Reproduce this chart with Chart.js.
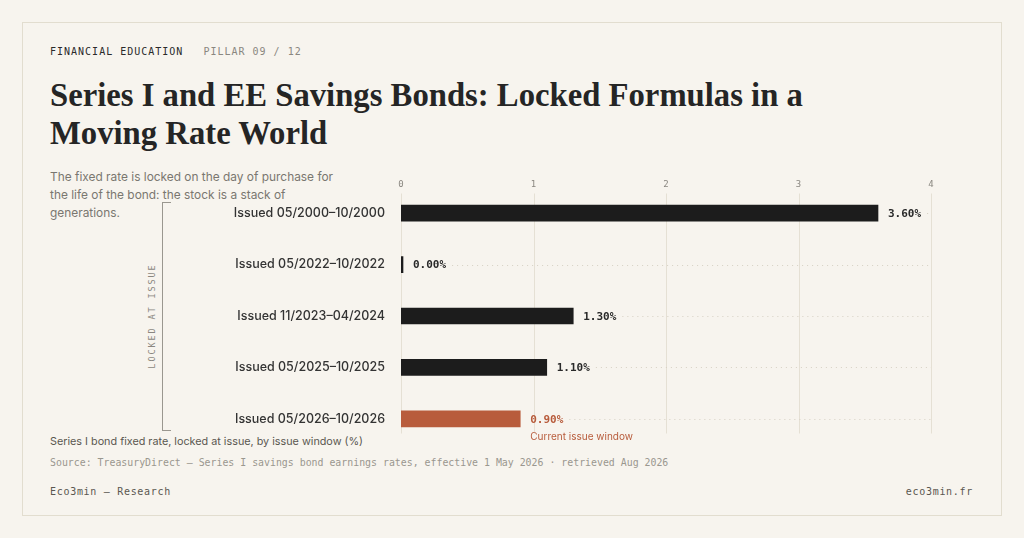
<!DOCTYPE html>
<html><head><meta charset="utf-8">
<script src="https://cdn.jsdelivr.net/npm/chart.js@4.4.1/dist/chart.umd.min.js"></script>
<style>
html,body{margin:0;padding:0;background:#f7f4ee;width:1024px;height:538px;overflow:hidden;position:relative;font-family:Inter,"Noto Sans",sans-serif;}
.card{position:absolute;left:22px;top:22px;width:978px;height:492px;border:1px solid #e2ddcf;}
.abs{position:absolute;white-space:nowrap;}
.mono{font-family:"DejaVu Sans Mono","Liberation Mono",monospace;}
#kicker{left:50px;top:46px;font-size:10px;letter-spacing:1px;color:#2a2a2a;}
#kicker span{color:#8a8780;margin-left:20px;}
#title{left:50px;top:76px;font-family:"Liberation Serif",serif;font-weight:700;font-size:32.7px;line-height:38px;color:#252525;white-space:normal;width:800px;}
#sub{left:50px;top:168px;width:300px;white-space:normal;font-size:11.9px;line-height:18px;color:#7a7770;}
#bracket{left:162px;top:202px;width:8px;height:227px;border:1.3px solid #9a978f;border-right:none;}
#locked{left:152px;top:316px;transform:translate(-50%,-50%) rotate(-90deg);font-size:8.5px;letter-spacing:1.9px;color:#8a8780;}
#caption{left:50px;top:435px;font-size:10.8px;color:#5a5750;}
#source{left:50px;top:457px;font-size:9.9px;color:#9a978f;}
#brand{left:50px;top:486px;font-size:10px;letter-spacing:0.7px;color:#5a5750;}
#site{right:51px;top:486px;font-size:10px;letter-spacing:0.7px;color:#5a5750;}
#chartwrap{position:absolute;left:170px;top:164px;width:800px;height:304px;}
</style></head>
<body>
<div class="card"></div>
<div class="abs mono" id="kicker">FINANCIAL EDUCATION<span>PILLAR 09 / 12</span></div>
<div class="abs" id="title">Series I and EE Savings Bonds: Locked Formulas in a Moving Rate World</div>
<div class="abs" id="sub">The fixed rate is locked on the day of purchase for the life of the bond: the stock is a stack of generations.</div>
<div class="abs" id="bracket"></div>
<div class="abs mono" id="locked">LOCKED AT ISSUE</div>
<div class="abs" id="caption">Series I bond fixed rate, locked at issue, by issue window (%)</div>
<div class="abs mono" id="source">Source: TreasuryDirect — Series I savings bond earnings rates, effective 1 May 2026 · retrieved Aug 2026</div>
<div class="abs mono" id="brand">Eco3min — Research</div>
<div class="abs mono" id="site">eco3min.fr</div>
<div id="chartwrap"><canvas id="c"></canvas></div>
<script>
const categories = ["Issued 05/2000–10/2000","Issued 05/2022–10/2022","Issued 11/2023–04/2024","Issued 05/2025–10/2025","Issued 05/2026–10/2026"];
const fixedRates = [3.60, 0.00, 1.30, 1.10, 0.90];
const xTicks = [0,1,2,3,4];
const currentIndex = 4;
const currentNote = "Current issue window";

const DARK = "#1c1c1c", ORANGE = "#b85c3c";

const overlay = {
  id:"overlay",
  beforeDatasetsDraw(chart){
    const {ctx, chartArea, scales:{x}} = chart;
    ctx.save();
    ctx.strokeStyle = "#e5e0d4"; ctx.lineWidth = 1;
    xTicks.forEach(v=>{
      const px = Math.round(x.getPixelForValue(v))+0.5;
      ctx.beginPath(); ctx.moveTo(px, chartArea.top+6); ctx.lineTo(px, chartArea.bottom-11); ctx.stroke();
    });
    ctx.restore();
  },
  afterDatasetsDraw(chart){
    const {ctx, chartArea} = chart;
    const meta = chart.getDatasetMeta(0);
    ctx.save();
    ctx.textBaseline = "middle";
    meta.data.forEach((bar,i)=>{
      const isCur = i===currentIndex;
      const txt = fixedRates[i].toFixed(2)+"%";
      ctx.font = "bold 11px 'DejaVu Sans Mono', monospace";
      ctx.fillStyle = isCur ? ORANGE : "#2a2a2a";
      const tx = Math.max(bar.x, bar.base) + 10;
      ctx.fillText(txt, tx, bar.y+1);
      const w = ctx.measureText(txt).width;
      ctx.strokeStyle = "#d6d0c3"; ctx.lineWidth = 1; ctx.setLineDash([1,4]);
      ctx.beginPath(); ctx.moveTo(tx+w+6, Math.round(bar.y)+0.5); ctx.lineTo(chartArea.right, Math.round(bar.y)+0.5); ctx.stroke();
      ctx.setLineDash([]);
      if(isCur){
        ctx.font = "10px Inter, sans-serif";
        ctx.fillStyle = ORANGE;
        ctx.fillText(currentNote, tx, bar.y+18);
      }
    });
    ctx.restore();
  }
};

new Chart(document.getElementById("c"),{
  type:"bar",
  data:{labels:categories,datasets:[{data:fixedRates,
    backgroundColor:fixedRates.map((v,i)=>i===currentIndex?ORANGE:DARK),
    barThickness:16, minBarLength:2, borderWidth:0}]},
  options:{
    indexAxis:"y", responsive:true, maintainAspectRatio:false, animation:false,
    layout:{padding:{left:0,right:39,top:0,bottom:16}},
    plugins:{legend:{display:false},tooltip:{enabled:false}},
    scales:{
      x:{position:"top",min:0,max:4,
        afterBuildTicks(s){s.ticks = xTicks.map(v=>({value:v}));},
        afterFit(s){s.height=17;},
        grid:{display:false,drawTicks:false},border:{display:false},
        ticks:{padding:-3,color:"#8a8780",font:{family:"'DejaVu Sans Mono', monospace",size:9}}},
      y:{afterFit(s){s.width=231;},
        grid:{display:false,drawTicks:false},border:{display:false},
        ticks:{padding:16,color:"#333",font:{family:"Inter, sans-serif",size:12.5,weight:"500"}}}
    }
  },
  plugins:[overlay]
});
</script>
</body></html>
